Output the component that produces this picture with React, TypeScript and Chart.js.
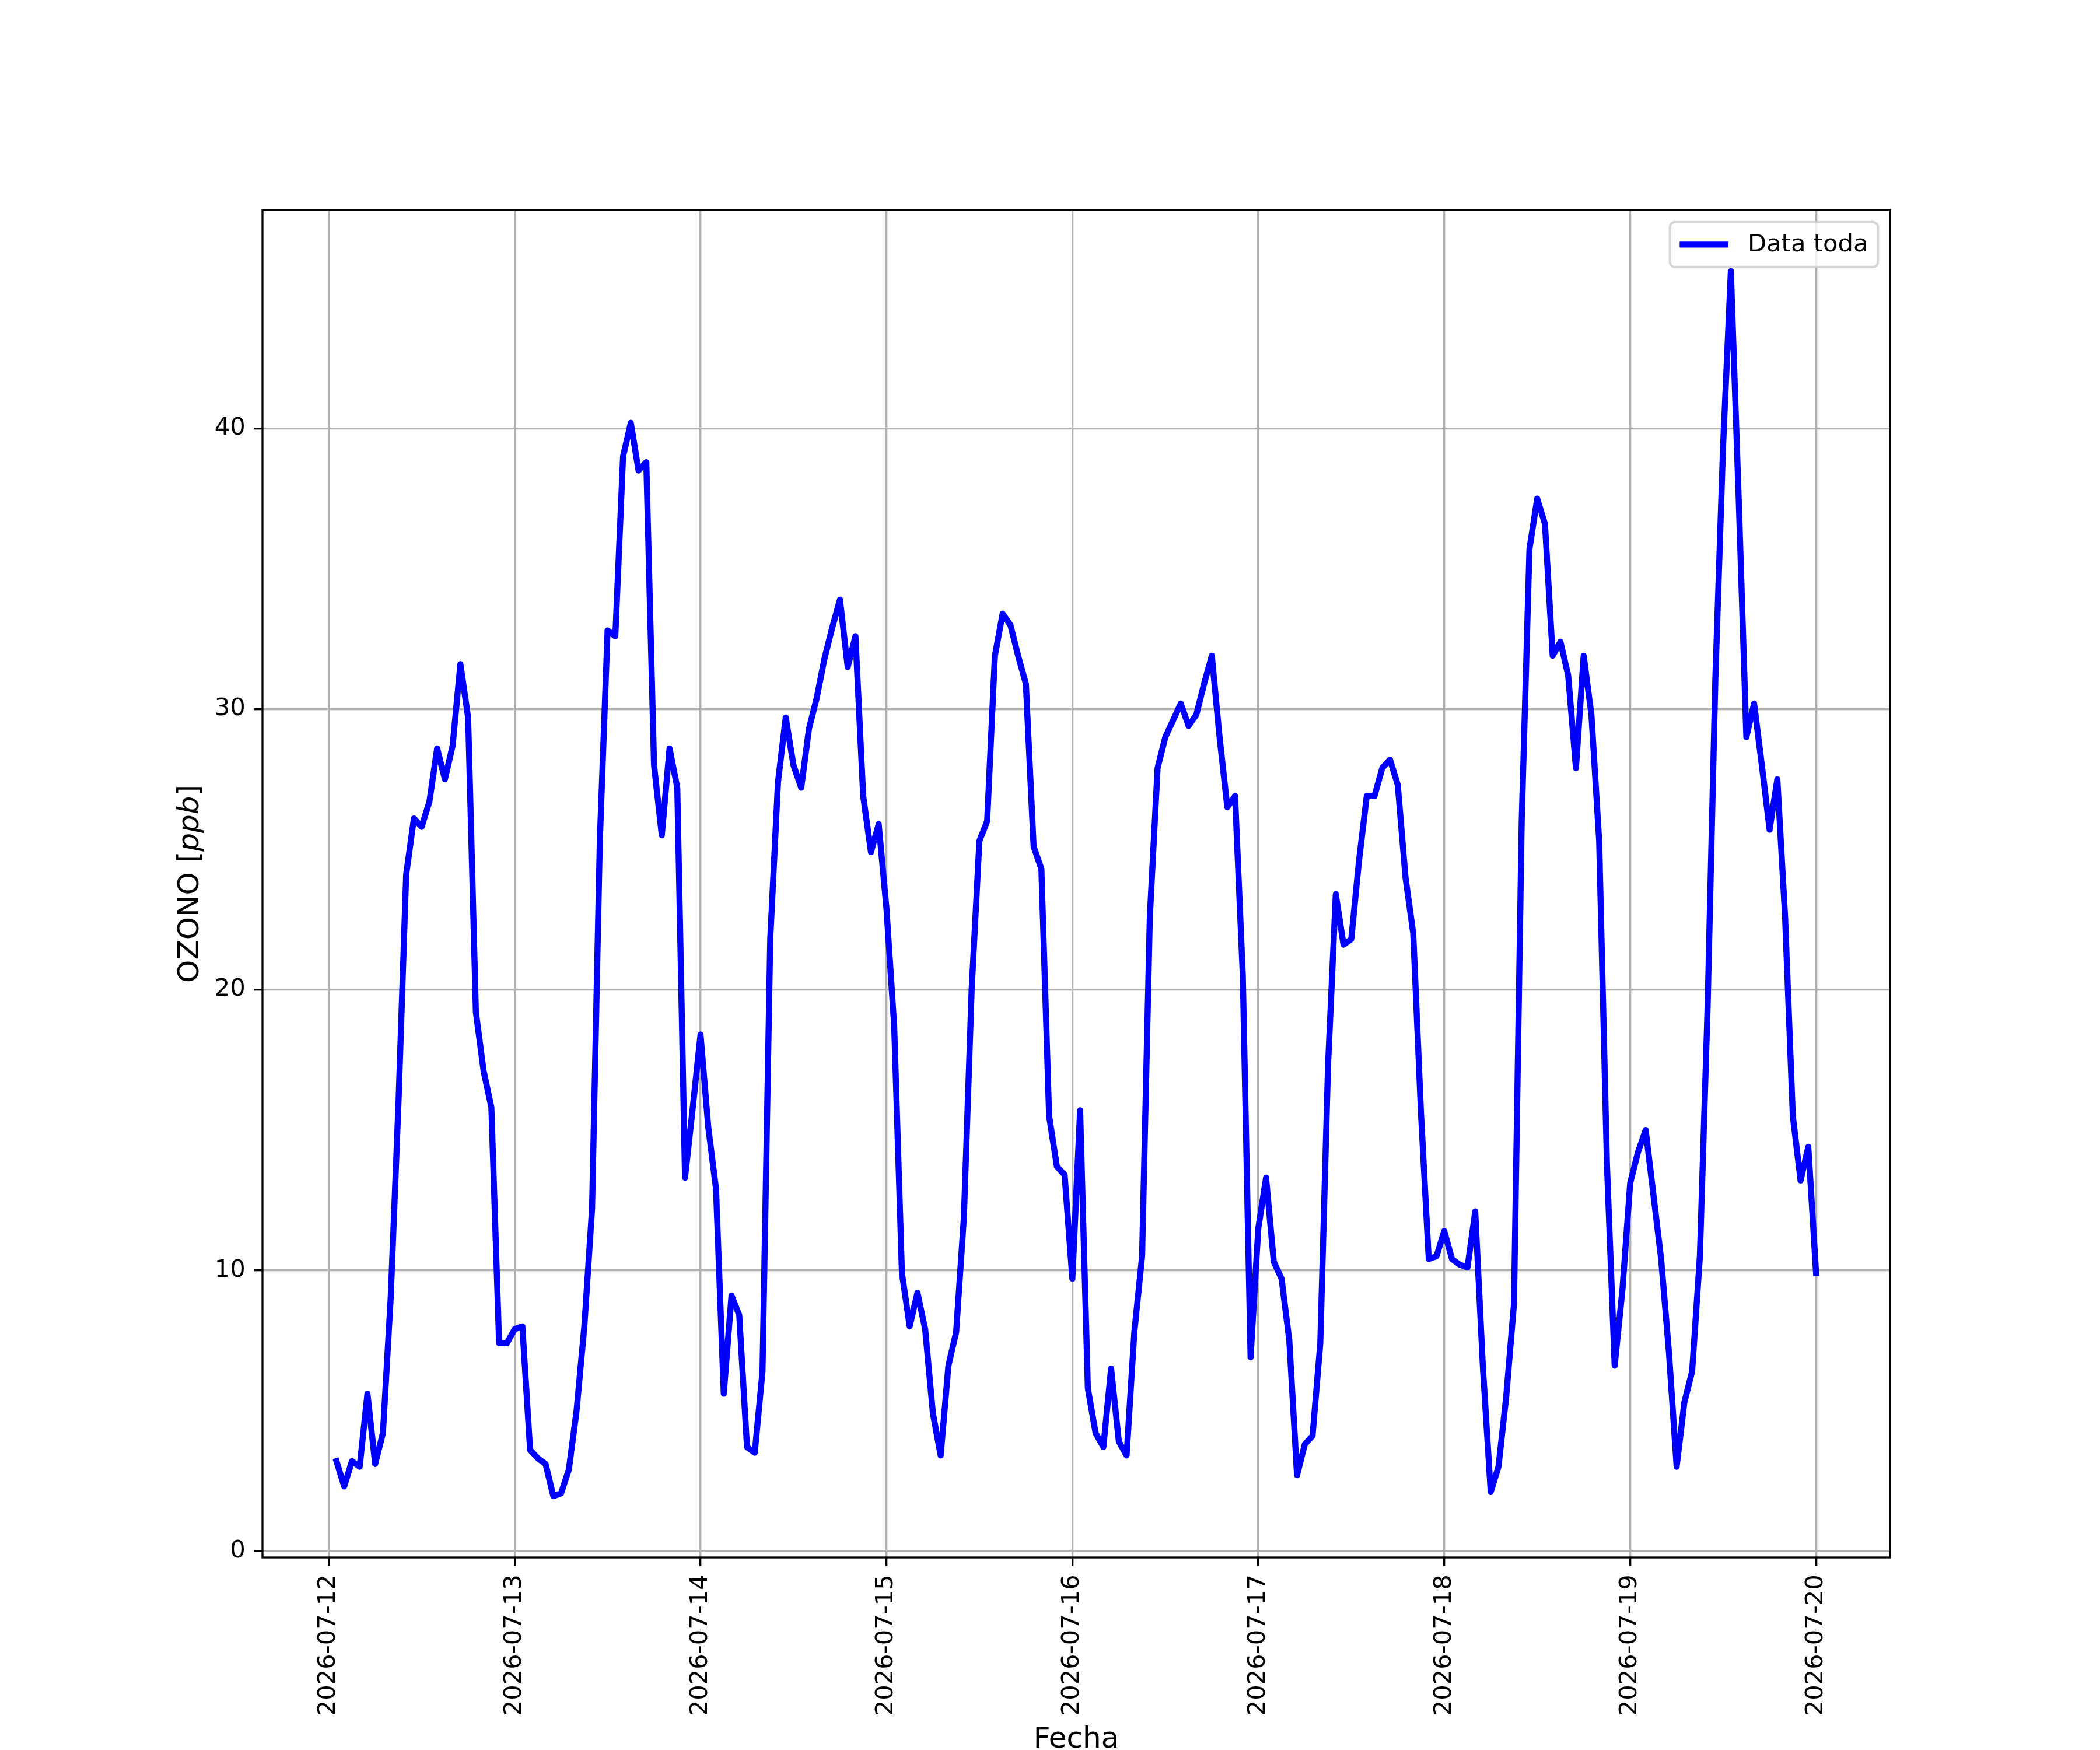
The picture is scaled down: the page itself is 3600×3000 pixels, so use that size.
import React, { useEffect, useRef } from "react";
import { Chart, registerables } from "chart.js";

Chart.register(...registerables);

// figure was 12x10 in at 300 dpi, so 1pt = 300/72 px
const PT = 300 / 72;
const W = 3600;
const H = 3000;
const LINE_W = 2.5 * PT;

const seriesLabel = "Data toda";
const dayLabels = [
    "2026-07-12", "2026-07-13", "2026-07-14", "2026-07-15", "2026-07-16",
    "2026-07-17", "2026-07-18", "2026-07-19", "2026-07-20",
];
const yTicks = [0, 10, 20, 30, 40];

// hourly ozone [ppb], 01:00 .. 24:00 of each day
const jul12 = [3.2, 2.3, 3.2, 3.0, 5.6, 3.1, 4.2, 9.0, 15.9, 24.1, 26.1, 25.8, 26.7, 28.6, 27.5, 28.7, 31.6, 29.7, 19.2, 17.1, 15.8, 7.4, 7.4, 7.9];
const jul13 = [8.0, 3.6, 3.3, 3.1, 1.95, 2.05, 2.9, 5.0, 8.0, 12.2, 25.3, 32.8, 32.6, 39.0, 40.2, 38.5, 38.8, 28.0, 25.5, 28.6, 27.2, 13.3, 15.8, 18.4];
const jul14 = [15.1, 12.9, 5.6, 9.1, 8.4, 3.7, 3.5, 6.4, 21.8, 27.4, 29.7, 28.0, 27.2, 29.3, 30.4, 31.8, 32.9, 33.9, 31.5, 32.6, 26.9, 24.9, 25.9, 22.9];
const jul15 = [18.7, 9.9, 8.0, 9.2, 7.9, 4.9, 3.4, 6.6, 7.8, 11.9, 20.0, 25.3, 26.0, 31.9, 33.4, 33.0, 31.9, 30.9, 25.1, 24.3, 15.5, 13.7, 13.4, 9.7];
const jul16 = [15.7, 5.8, 4.2, 3.7, 6.5, 3.9, 3.4, 7.8, 10.5, 22.6, 27.9, 29.0, 29.6, 30.2, 29.4, 29.8, 30.9, 31.9, 29.0, 26.5, 26.9, 20.5, 6.9, 11.5];
const jul17 = [13.3, 10.3, 9.7, 7.5, 2.7, 3.8, 4.1, 7.4, 17.3, 23.4, 21.6, 21.8, 24.6, 26.9, 26.9, 27.9, 28.2, 27.3, 24.0, 22.0, 15.6, 10.4, 10.5, 11.4];
const jul18 = [10.4, 10.2, 10.1, 12.1, 6.5, 2.1, 3.0, 5.5, 8.8, 26.0, 35.7, 37.5, 36.6, 31.9, 32.4, 31.2, 27.9, 31.9, 29.8, 25.3, 13.8, 6.6, 9.3, 13.1];
const jul19 = [14.2, 15.0, 12.7, 10.4, 7.1, 3.0, 5.3, 6.4, 10.5, 19.4, 31.1, 39.4, 45.6, 37.6, 29.0, 30.2, 28.0, 25.7, 27.5, 22.6, 15.5, 13.2, 14.4, 9.9];

const ozone = [...jul12, ...jul13, ...jul14, ...jul15, ...jul16, ...jul17, ...jul18, ...jul19];
// x = hours since 2026-07-12 00:00
const points = ozone.map((v, i) => ({ x: i + 1, y: v }));

// matplotlib style 5% margins
const xFirst = 1;
const xLast = ozone.length;
const xPad = (xLast - xFirst) * 0.05;
const yLo = Math.min(...ozone);
const yHi = Math.max(...ozone);
const yPad = (yHi - yLo) * 0.05;

const FONT = '"DejaVu Sans", sans-serif';

const decorations = {
    id: "decorations",
    beforeDraw(chart) {
        const ctx = chart.ctx;
        ctx.save();
        ctx.fillStyle = "#ffffff";
        ctx.fillRect(0, 0, chart.width, chart.height);
        ctx.restore();
    },
    afterDatasetsDraw(chart) {
        const { ctx, chartArea: a } = chart;
        ctx.save();
        ctx.strokeStyle = "#000000";
        ctx.lineWidth = 0.8 * PT;
        ctx.strokeRect(a.left, a.top, a.right - a.left, a.bottom - a.top);
        ctx.restore();
    },
    afterDraw(chart) {
        const { ctx, chartArea: a } = chart;
        ctx.save();

        // x label
        ctx.fillStyle = "#000000";
        ctx.font = `${12 * PT}px ${FONT}`;
        ctx.textAlign = "center";
        ctx.textBaseline = "alphabetic";
        ctx.fillText("Fecha", (a.left + a.right) / 2, 2996);

        // y label with italic unit
        const parts = [
            { t: "OZONO [", f: `${12 * PT}px ${FONT}` },
            { t: "ppb", f: `italic ${12 * PT}px ${FONT}` },
            { t: "]", f: `${12 * PT}px ${FONT}` },
        ];
        let total = 0;
        const widths = parts.map((p) => {
            ctx.font = p.f;
            const w = ctx.measureText(p.t).width;
            total += w;
            return w;
        });
        ctx.save();
        ctx.translate(340, (a.top + a.bottom) / 2);
        ctx.rotate(-Math.PI / 2);
        ctx.textAlign = "left";
        let px = -total / 2;
        parts.forEach((p, i) => {
            ctx.font = p.f;
            ctx.fillText(p.t, px, 0);
            px += widths[i];
        });
        ctx.restore();

        // legend, upper right
        const fs = 10 * PT;
        ctx.font = `${fs}px ${FONT}`;
        const tw = ctx.measureText(seriesLabel).width;
        const pad = 0.4 * fs;
        const handleLen = 2 * fs;
        const gap = 0.8 * fs;
        const bw = pad * 2 + handleLen + gap + tw;
        const bh = pad * 2 + fs * 1.05;
        const right = a.right - 0.5 * fs;
        const top = a.top + 0.5 * fs;
        const left = right - bw;
        ctx.beginPath();
        ctx.roundRect(left, top, bw, bh, 0.2 * fs);
        ctx.fillStyle = "rgba(255,255,255,0.8)";
        ctx.fill();
        ctx.lineWidth = 1 * PT;
        ctx.strokeStyle = "rgba(204,204,204,0.8)";
        ctx.stroke();

        const cy = top + bh / 2;
        ctx.beginPath();
        ctx.moveTo(left + pad + LINE_W / 2, cy);
        ctx.lineTo(left + pad + handleLen - LINE_W / 2, cy);
        ctx.strokeStyle = "#0000ff";
        ctx.lineWidth = LINE_W;
        ctx.lineCap = "square";
        ctx.stroke();

        ctx.fillStyle = "#000000";
        ctx.textAlign = "left";
        ctx.textBaseline = "middle";
        ctx.fillText(seriesLabel, left + pad + handleLen + gap, cy + 1);
        ctx.restore();
    },
};

const OzoneChart = () => {
    const chartRef = useRef(null);

    useEffect(() => {
        document.body.style.margin = "0";
        let chartInstance;
        if (chartRef.current) {
            const ctx = chartRef.current.getContext("2d");
            chartInstance = new Chart(ctx, {
                type: "line",
                data: {
                    datasets: [
                        {
                            label: seriesLabel,
                            data: points,
                            borderColor: "#0000ff",
                            backgroundColor: "#0000ff",
                            borderWidth: LINE_W,
                            pointRadius: 0,
                            tension: 0,
                            fill: false,
                            borderJoinStyle: "round",
                            borderCapStyle: "square",
                        },
                    ],
                },
                options: {
                    animation: false,
                    responsive: false,
                    devicePixelRatio: 1,
                    layout: { padding: { left: 0, top: 360, right: 360, bottom: 0 } },
                    plugins: {
                        legend: { display: false },
                        tooltip: { enabled: false },
                    },
                    scales: {
                        x: {
                            type: "linear",
                            min: xFirst - xPad,
                            max: xLast + xPad,
                            afterBuildTicks: (scale) => {
                                scale.ticks = dayLabels.map((_, i) => ({ value: i * 24 }));
                            },
                            afterFit: (scale) => {
                                scale.height = H - 2670;
                            },
                            ticks: {
                                autoSkip: false,
                                minRotation: 90,
                                maxRotation: 90,
                                padding: 3.5 * PT,
                                color: "#000000",
                                font: { family: FONT, size: 10 * PT },
                                callback: (value) => dayLabels[Math.round(Number(value) / 24)],
                            },
                            grid: {
                                color: "#b0b0b0",
                                lineWidth: 0.8 * PT,
                                tickColor: "#000000",
                                tickWidth: 0.8 * PT,
                                tickLength: 3.5 * PT,
                            },
                            border: { display: false },
                        },
                        y: {
                            type: "linear",
                            min: yLo - yPad,
                            max: yHi + yPad,
                            afterBuildTicks: (scale) => {
                                scale.ticks = yTicks.map((v) => ({ value: v }));
                            },
                            afterFit: (scale) => {
                                scale.width = 450;
                            },
                            ticks: {
                                padding: 3.5 * PT,
                                color: "#000000",
                                font: { family: FONT, size: 10 * PT },
                                callback: (value) => String(value),
                            },
                            grid: {
                                color: "#b0b0b0",
                                lineWidth: 0.8 * PT,
                                tickColor: "#000000",
                                tickWidth: 0.8 * PT,
                                tickLength: 3.5 * PT,
                            },
                            border: { display: false },
                        },
                    },
                },
                plugins: [decorations],
            });
        }

        return () => {
            if (chartInstance) {
                chartInstance.destroy();
            }
        };
    }, []);

    return (
        <div style={{ width: W, height: H }}>
            <canvas ref={chartRef} width={W} height={H} style={{ display: "block", width: W, height: H }} />
        </div>
    );
};

export default function App() {
    return <OzoneChart />;
}
